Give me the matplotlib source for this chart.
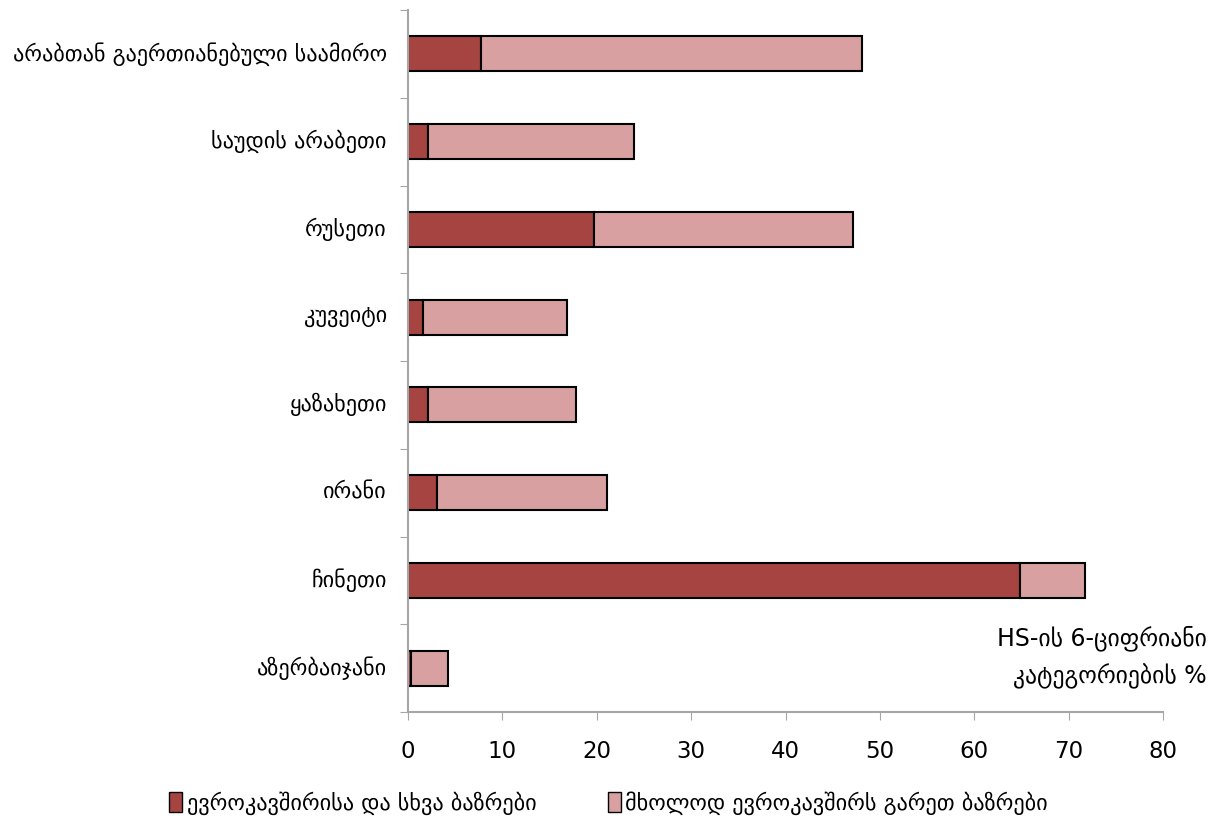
import matplotlib.pyplot as plt
from matplotlib.patches import Patch
import numpy as np

plt.rcParams['font.family'] = ['DejaVu Sans']

# Data (top to bottom)
countries = ["არაბთან გაერთიანებული საამირო", "საუდის არაბეთი", "რუსეთი", "კუვეიტი",
             "ყაზახეთი", "ირანი", "ჩინეთი", "აზერბაიჯანი"]
eu_and_other = [7.7, 2.1, 19.7, 1.6, 2.1, 3.1, 64.9, 0.3]
non_eu_only = [40.4, 21.8, 27.5, 15.3, 15.7, 18.0, 6.8, 3.9]
x_ticks = [0, 10, 20, 30, 40, 50, 60, 70, 80]
legend_labels = ["ევროკავშირისა და სხვა ბაზრები", "მხოლოდ ევროკავშირს გარეთ ბაზრები"]
note = "HS-ის 6-ციფრიანი\nკატეგორიების %"

dark = "#a64442"
light = "#d8a0a0"
grey = "#a6a6a6"

fig = plt.figure(figsize=(12.17, 8.19), dpi=100)
ax = fig.add_axes([408 / 1217, 1 - 712 / 819, 755 / 1217, 702 / 819])

y = np.arange(len(countries))
ax.barh(y, eu_and_other, height=0.4, color=dark, edgecolor="black", linewidth=1.5)
ax.barh(y, non_eu_only, left=eu_and_other, height=0.4, color=light,
        edgecolor="black", linewidth=1.5)

ax.set_ylim(len(countries) - 0.5, -0.5)
ax.set_xlim(0, 80)
ax.set_xticks(x_ticks)
ax.tick_params(axis="x", labelsize=16.5, length=6, color=grey, pad=14)

# category names as text, ticks at the boundaries
ax.set_yticks(np.arange(len(countries) + 1) - 0.5)
ax.set_yticklabels([])
ax.tick_params(axis="y", length=6, color=grey)
for i, name in enumerate(countries):
    ax.text(-0.028, i, name, transform=ax.get_yaxis_transform(), ha="right",
            va="center", fontsize=16)

for side in ["top", "right"]:
    ax.spines[side].set_visible(False)
for side in ["left", "bottom"]:
    ax.spines[side].set_color(grey)
    ax.spines[side].set_linewidth(1.5)

fig.text(1207 / 1217, 1 - 657 / 819, note, ha="right", va="center", fontsize=17,
         linespacing=1.6)

handles = [Patch(facecolor=dark, edgecolor="black"), Patch(facecolor=light, edgecolor="black")]
fig.legend(handles, legend_labels, loc="center", bbox_to_anchor=(0.5, 1 - 803 / 819),
           ncol=2, frameon=False, fontsize=16, handlelength=0.6, handleheight=1.0,
           handletextpad=0.2, columnspacing=3.2)

fig.savefig("out.png", dpi=100)
